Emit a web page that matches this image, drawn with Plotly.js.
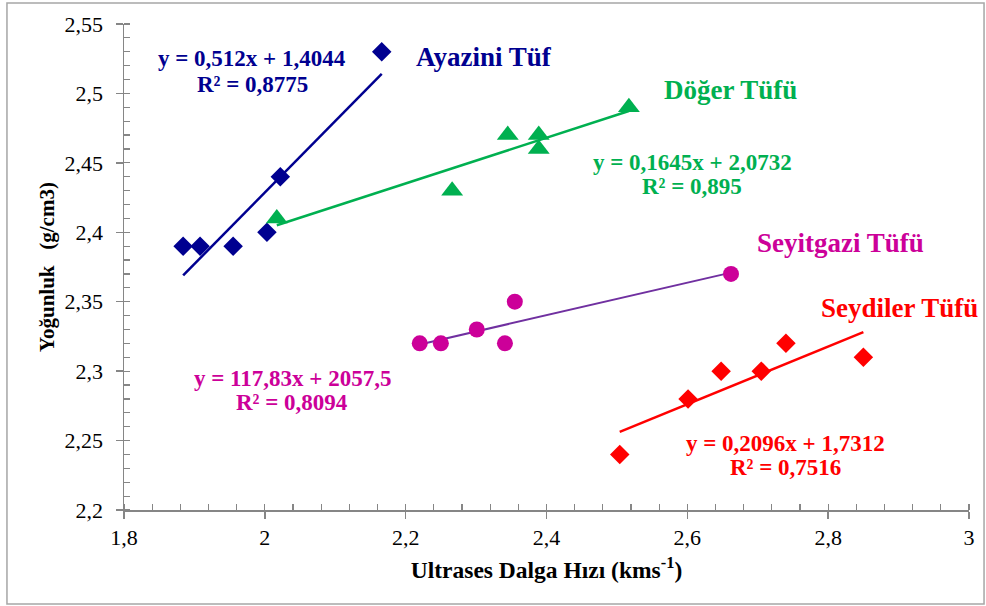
<!DOCTYPE html>
<html>
<head>
<meta charset="utf-8">
<script src="https://cdn.plot.ly/plotly-3.0.1.min.js"></script>
<style>html,body{margin:0;padding:0;background:#fff;}#chart{width:986px;height:606px;}</style>
</head>
<body>
<div id="chart"></div>
<script>
// Data
const ayaziniX = [1.884, 1.908, 1.955, 2.003, 2.022, 2.166];
const ayaziniY = [2.39, 2.39, 2.39, 2.40, 2.44, 2.53];
const dogerX = [2.017, 2.266, 2.345, 2.389, 2.389, 2.517];
const dogerY = [2.41, 2.43, 2.47, 2.47, 2.46, 2.49];
const seyitgaziX = [2.22, 2.25, 2.301, 2.341, 2.355, 2.662];
const seyitgaziY = [2.32, 2.32, 2.33, 2.32, 2.35, 2.37];
const seydilerX = [2.504, 2.601, 2.648, 2.705, 2.74, 2.85];
const seydilerY = [2.24, 2.28, 2.30, 2.30, 2.32, 2.31];

const seriesNames = ["Ayazini Tüf", "Döğer Tüfü", "Seyitgazi Tüfü", "Seydiler Tüfü"];
const eqLines = ["y = 0,512x + 1,4044", "y = 0,1645x + 2,0732", "y = 117,83x + 2057,5", "y = 0,2096x + 1,7312"];
const r2Lines = ["R² = 0,8775", "R² = 0,895", "R² = 0,8094", "R² = 0,7516"];
const xTickVals = [1.8, 2.0, 2.2, 2.4, 2.6, 2.8, 3.0];
const xTickText = ["1,8", "2", "2,2", "2,4", "2,6", "2,8", "3"];
const yTickVals = [2.2, 2.25, 2.3, 2.35, 2.4, 2.45, 2.5, 2.55];
const yTickText = ["2,2", "2,25", "2,3", "2,35", "2,4", "2,45", "2,5", "2,55"];

function linFit(xs, ys) {
  const n = xs.length;
  const mx = xs.reduce((a, b) => a + b, 0) / n;
  const my = ys.reduce((a, b) => a + b, 0) / n;
  let sxy = 0, sxx = 0;
  for (let i = 0; i < n; i++) { sxy += (xs[i] - mx) * (ys[i] - my); sxx += (xs[i] - mx) ** 2; }
  const m = sxy / sxx, b = my - m * mx;
  const x0 = Math.min(...xs), x1 = Math.max(...xs);
  return { x: [x0, x1], y: [m * x0 + b, m * x1 + b] };
}

const navy = "#000090", green = "#00B050", magenta = "#CC0099", purple = "#7030A0", red = "#FF0000";
const serif = "Liberation Serif";

const defs = [
  { x: ayaziniX, y: ayaziniY, color: navy, line: navy, symbol: "diamond", size: 15, lw: 2.5 },
  { x: dogerX, y: dogerY, color: green, line: green, symbol: "triangle-up", size: 19, lw: 2.5 },
  { x: seyitgaziX, y: seyitgaziY, color: magenta, line: purple, symbol: "circle", size: 16, lw: 2 },
  { x: seydilerX, y: seydilerY, color: red, line: red, symbol: "diamond", size: 15, lw: 2.5 }
];

const traces = [];
defs.forEach((d, i) => {
  const f = linFit(d.x, d.y);
  traces.push({ x: f.x, y: f.y, mode: "lines", line: { color: d.line, width: d.lw }, showlegend: false, hoverinfo: "skip" });
});
defs.forEach((d, i) => {
  traces.push({ x: d.x, y: d.y, mode: "markers", name: seriesNames[i],
    marker: { symbol: d.symbol, size: d.size, color: d.color }, showlegend: false });
});

const annFont = (c, s) => ({ family: serif, size: s, color: c, weight: "bold" });
// pixel helpers for label placement (plot area: x 124..969, y 24..510)
const px = p => 1.8 + (p - 124) / 845 * 1.2;
const py = p => 2.2 + (510 - p) / 486 * 0.35;
const EQ = 23, NM = 27;
const annotations = [
  { x: px(252), y: py(58), text: eqLines[0], font: annFont(navy, EQ) },
  { x: px(252), y: py(84), text: r2Lines[0], font: annFont(navy, EQ) },
  { x: px(484), y: py(57), text: seriesNames[0], font: annFont(navy, NM) },
  { x: px(730), y: py(90), text: seriesNames[1], font: annFont(green, NM) },
  { x: px(692), y: py(162), text: eqLines[1], font: annFont(green, EQ) },
  { x: px(692), y: py(186), text: r2Lines[1], font: annFont(green, EQ) },
  { x: px(840), y: py(243), text: seriesNames[2], font: annFont(magenta, NM) },
  { x: px(899), y: py(308), text: seriesNames[3], font: annFont(red, NM) },
  { x: px(292), y: py(378), text: eqLines[2], font: annFont(magenta, EQ) },
  { x: px(292), y: py(402), text: r2Lines[2], font: annFont(magenta, EQ) },
  { x: px(785), y: py(443), text: eqLines[3], font: annFont(red, EQ) },
  { x: px(785), y: py(467), text: r2Lines[3], font: annFont(red, EQ) }
].map(a => Object.assign({ xref: "x", yref: "y", showarrow: false, xanchor: "center", yanchor: "middle" }, a));

const layout = {
  width: 986, height: 606,
  margin: { l: 124, r: 17, t: 24, b: 96 },
  paper_bgcolor: "#fff", plot_bgcolor: "#fff",
  showlegend: false,
  separators: ",.",
  font: { family: serif, color: "#000" },
  xaxis: {
    range: [1.8, 3.0], tickvals: xTickVals, ticktext: xTickText,
    showgrid: false, zeroline: false, showline: true, linecolor: "#868686", linewidth: 1.5,
    ticks: "outside", ticklen: 7, tickcolor: "#868686", tickwidth: 1.5,
    minor: { dtick: 0.04, ticks: "inside", ticklen: 6, tickcolor: "#868686", tickwidth: 1.2, showgrid: false },
    tickfont: { family: serif, size: 22, color: "#000" },
    title: { text: "Ultrases Dalga Hızı (kms<sup>-1</sup>)", font: { family: serif, size: 23.5, color: "#000", weight: "bold" }, standoff: 12 }
  },
  yaxis: {
    range: [2.2, 2.55], tickvals: yTickVals, ticktext: yTickText,
    showgrid: false, zeroline: false, showline: true, linecolor: "#868686", linewidth: 1.5,
    ticks: "outside", ticklen: 7, tickcolor: "#868686", tickwidth: 1.5, ticklabelstandoff: 8,
    minor: { dtick: 0.01, ticks: "inside", ticklen: 6, tickcolor: "#868686", tickwidth: 1.2, showgrid: false },
    tickfont: { family: serif, size: 22, color: "#000" },
    title: { text: "Yoğunluk\u00a0\u00a0\u00a0(g/cm3)", font: { family: serif, size: 21, color: "#000", weight: "bold" }, standoff: 4 }
  },
  annotations: annotations,
  shapes: [{
    type: "rect", xref: "paper", yref: "paper",
    x0: -0.1385, x1: 1.0178, y0: -0.1934, y1: 1.0432,
    line: { color: "#A6A6A6", width: 1.5 }, fillcolor: "rgba(0,0,0,0)", layer: "below"
  }]
};

Plotly.newPlot("chart", traces, layout, { displayModeBar: false, staticPlot: true });
</script>
</body>
</html>
